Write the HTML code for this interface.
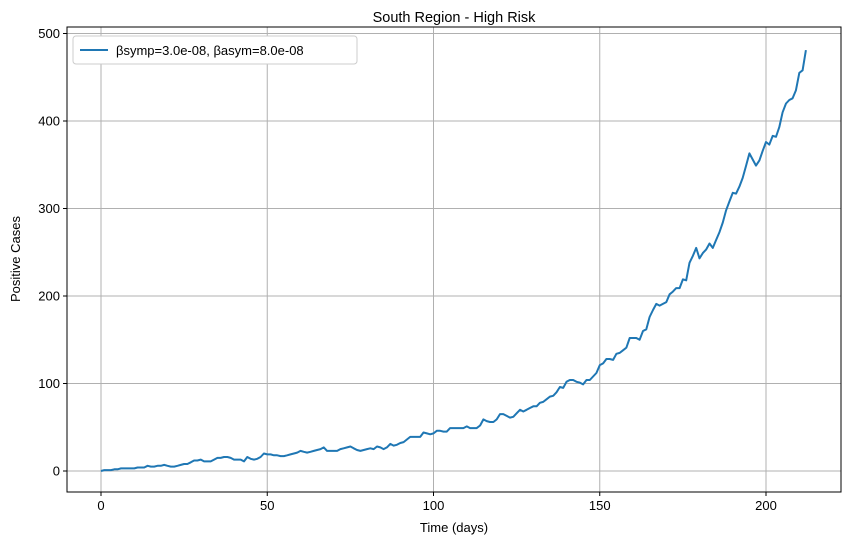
<!DOCTYPE html>
<html><head><meta charset="utf-8"><style>
body{margin:0;background:#fff;font-family:"Liberation Sans",sans-serif}
svg text{font-family:"Liberation Sans","DejaVu Sans",sans-serif;fill:#000}
</style></head><body>
<svg id="chart" width="850" height="545" xmlns="http://www.w3.org/2000/svg">
<rect width="850" height="545" fill="#fff"/>
<g id="grid"></g>
<g id="ticks"></g>
<path id="line" fill="none" stroke="#1f77b4" stroke-width="2" stroke-linejoin="round"/>
<rect x="67" y="27" width="774" height="465" fill="none" stroke="#000" stroke-width="1"/>
<text x="454" y="22" text-anchor="middle" font-size="14.5">South Region - High Risk</text>
<text x="454" y="532" text-anchor="middle" font-size="13">Time (days)</text>
<text transform="translate(20,259) rotate(-90)" text-anchor="middle" font-size="13">Positive Cases</text>
<g>
<rect x="73" y="36" width="284" height="28" rx="3" fill="#fff" stroke="#ccc"/>
<line x1="80" y1="50" x2="108" y2="50" stroke="#1f77b4" stroke-width="2"/>
<text x="116" y="55" font-size="13">βsymp=3.0e-08, βasym=8.0e-08</text>
</g>
</svg>
<script>
const xTicks=[0,50,100,150,200];
const yTicks=[0,100,200,300,400,500];
const cases=[0,1,1,1,2,2,3,3,3,3,
3,4,4,4,6,5,5,6,6,7,
6,5,5,6,7,8,8,10,12,12,
13,11,11,11,13,15,15,16,16,15,
13,13,13,11,16,14,13,14,16,20,
19,19,18,18,17,17,18,19,20,21,
23,22,21,22,23,24,25,27,23,23,
23,23,25,26,27,28,26,24,23,24,
25,26,25,28,27,25,27,31,29,30,
32,33,36,39,39,39,39,44,43,42,
43,46,46,45,45,49,49,49,49,49,
51,49,49,49,52,59,57,56,56,59,
65,65,63,61,62,66,70,68,70,72,
74,74,78,79,82,85,86,90,96,95,
102,104,104,102,101,99,104,104,108,112,
121,123,128,128,127,134,135,138,141,152,
152,152,150,160,162,176,184,191,189,191,
193,202,205,209,209,219,218,238,246,255,
243,249,253,260,255,264,273,284,298,308,
318,317,325,335,349,363,356,349,355,366,
376,373,383,382,393,410,420,424,426,435,
455,458,481];
const days=cases.map((_,i)=>i);
const X=d=>101+d*3.325;
const Y=v=>471-v*0.875;
const ns="http://www.w3.org/2000/svg";
const grid=document.getElementById('grid'),ticks=document.getElementById('ticks');
function mk(tag,attrs,parent){const e=document.createElementNS(ns,tag);for(const k in attrs)e.setAttribute(k,attrs[k]);parent.appendChild(e);return e;}
xTicks.forEach(t=>{
  const g=mk('line',{x1:X(t),x2:X(t),y1:27,y2:492,stroke:'#b0b0b0','stroke-width':1},grid);
  
  
  mk('line',{x1:X(t),x2:X(t),y1:492,y2:496,stroke:'#000'},ticks);
  const tx=mk('text',{x:X(t),y:510,'text-anchor':'middle','font-size':13},ticks);
  tx.textContent=t;
  
  
});
yTicks.forEach(t=>{
  const g=mk('line',{x1:67,x2:841,y1:Y(t),y2:Y(t),stroke:'#b0b0b0','stroke-width':1},grid);
  
  
  mk('line',{x1:63,x2:67,y1:Y(t),y2:Y(t),stroke:'#000'},ticks);
  const tx=mk('text',{x:60,y:Y(t)+4.5,'text-anchor':'end','font-size':13},ticks);
  tx.textContent=t;
  
  
});
document.getElementById('line').setAttribute('d',days.map((d,i)=>(i?'L':'M')+X(d).toFixed(1)+','+Y(cases[i]).toFixed(1)).join(''));
</script>
</body></html>
